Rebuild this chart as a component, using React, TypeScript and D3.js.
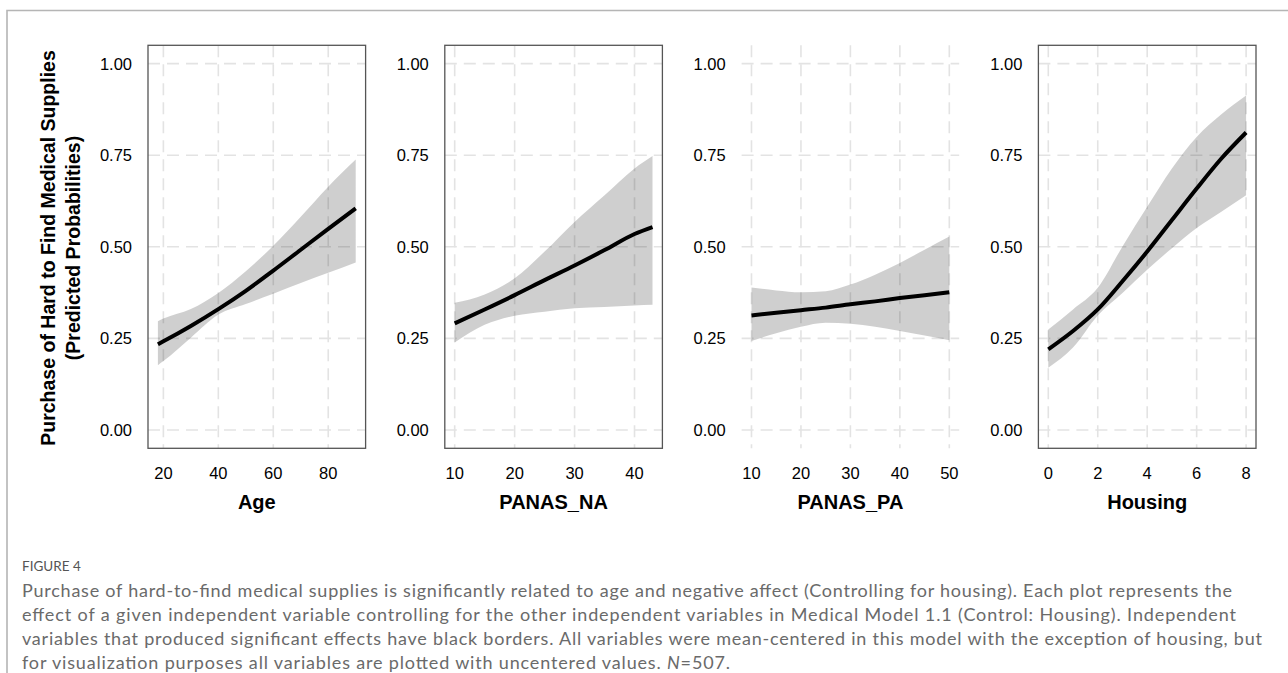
import React from 'react';
import * as d3 from 'd3';

// Age
const ageX = [18, 20, 30, 40, 50, 60, 70, 80, 90];
const ageFit = [0.234, 0.242, 0.284, 0.33, 0.38, 0.435, 0.492, 0.549, 0.605];
const ageLo = [0.177, 0.188, 0.252, 0.315, 0.344, 0.372, 0.401, 0.429, 0.457];
const ageHi = [0.297, 0.304, 0.33, 0.374, 0.433, 0.503, 0.582, 0.664, 0.738];
const ageTicks = [20, 40, 60, 80];

// PANAS_NA
const naX = [10, 15, 20, 25, 30, 35, 40, 43];
const naFit = [0.291, 0.329, 0.368, 0.409, 0.449, 0.491, 0.535, 0.554];
const naLo = [0.239, 0.287, 0.312, 0.323, 0.332, 0.336, 0.34, 0.342];
const naHi = [0.347, 0.37, 0.414, 0.487, 0.568, 0.641, 0.714, 0.748];
const naTicks = [10, 20, 30, 40];

// PANAS_PA
const paX = [10, 15, 20, 25, 30, 35, 40, 45, 50];
const paFit = [0.3125, 0.32, 0.327, 0.334, 0.343, 0.351, 0.36, 0.368, 0.376];
const paLo = [0.243, 0.264, 0.282, 0.293, 0.29, 0.282, 0.27, 0.258, 0.245];
const paHi = [0.389, 0.381, 0.376, 0.379, 0.397, 0.424, 0.456, 0.492, 0.528];
const paTicks = [10, 20, 30, 40, 50];

// Housing
const housingX = [0, 1, 2, 3, 4, 5, 6, 7, 8];
const housingFit = [0.22, 0.27, 0.329, 0.406, 0.487, 0.573, 0.659, 0.741, 0.812];
const housingLo = [0.17, 0.225, 0.3125, 0.374, 0.4375, 0.496, 0.551, 0.596, 0.641];
const housingHi = [0.274, 0.329, 0.388, 0.501, 0.609, 0.714, 0.8, 0.862, 0.913];
const housingTicks = [0, 2, 4, 6, 8];

const yTicks = [0, 0.25, 0.5, 0.75, 1];

const panels = [
  { title: 'Age', x: ageX, fit: ageFit, lo: ageLo, hi: ageHi, ticks: ageTicks, border: true },
  { title: 'PANAS_NA', x: naX, fit: naFit, lo: naLo, hi: naHi, ticks: naTicks, border: true },
  { title: 'PANAS_PA', x: paX, fit: paFit, lo: paLo, hi: paHi, ticks: paTicks, border: false },
  { title: 'Housing', x: housingX, fit: housingFit, lo: housingLo, hi: housingHi, ticks: housingTicks, border: true },
];

const captionLines = [
  'Purchase of hard-to-find medical supplies is significantly related to age and negative affect (Controlling for housing). Each plot represents the',
  'effect of a given independent variable controlling for the other independent variables in Medical Model 1.1 (Control: Housing). Independent',
  'variables that produced significant effects have black borders. All variables were mean-centered in this model with the exception of housing, but',
];
// measured line widths in the figure
const captionWidths = [1210, 1214, 1240];

const W = 1288;
const H = 673;
const top = 45.3;
const bottom = 448.3;
const left0 = 148;
const step = 296.8;
const pw = 217.6;
const font = '"Liberation Sans", Arial, Helvetica, sans-serif';

const y = d3.scaleLinear().domain([-0.05, 1.05]).range([bottom, top]);

const Panel: React.FC<{ p: typeof panels[number]; i: number }> = ({ p, i }) => {
  const left = left0 + i * step;
  const [mn, mx] = d3.extent(p.x) as [number, number];
  const pad = (mx - mn) * 0.05;
  const x = d3.scaleLinear().domain([mn - pad, mx + pad]).range([left, left + pw]);
  const idx = d3.range(p.x.length);
  const area = d3
    .area<number>()
    .x((k) => x(p.x[k]))
    .y0((k) => y(p.lo[k]))
    .y1((k) => y(p.hi[k]))
    .curve(d3.curveMonotoneX);
  const line = d3
    .line<number>()
    .x((k) => x(p.x[k]))
    .y((k) => y(p.fit[k]))
    .curve(d3.curveMonotoneX);
  const grid = { stroke: '#e3e3e3', strokeWidth: 1.6, strokeDasharray: '12,7' };
  return (
    <g>
      {yTicks.map((t) => (
        <line key={'h' + t} x1={left} x2={left + pw} y1={y(t)} y2={y(t)} {...grid} />
      ))}
      {p.ticks.map((t) => (
        <line key={'v' + t} x1={x(t)} x2={x(t)} y1={top} y2={bottom} {...grid} />
      ))}
      <path d={area(idx) || ''} fill="#000" fillOpacity={0.19} />
      <path d={line(idx) || ''} fill="none" stroke="#000" strokeWidth={4} />
      {p.border && (
        <rect x={left} y={top} width={pw} height={bottom - top} fill="none" stroke="#555" strokeWidth={1.3} />
      )}
      {yTicks.map((t) => (
        <text key={'yl' + t} x={left - 16} y={y(t)} dy="0.36em" textAnchor="end" fontSize={16.5} fill="#000">
          {d3.format('.2f')(t)}
        </text>
      ))}
      {p.ticks.map((t) => (
        <text key={'xl' + t} x={x(t)} y={479} textAnchor="middle" fontSize={16.5} fill="#000">
          {t}
        </text>
      ))}
      <text x={left + pw / 2} y={509} textAnchor="middle" fontSize={20} fontWeight="bold" fill="#000">
        {p.title}
      </text>
    </g>
  );
};

export default function App() {
  return (
    <svg
      width={W}
      height={H}
      style={{ position: 'absolute', left: 0, top: 0, background: '#fff', display: 'block' }}
      fontFamily={font}
    >
      <rect x={0} y={0} width={W} height={H} fill="#fff" />
      <path d={`M7,${H} V10.5 H${W}`} fill="none" stroke="#b5b5b5" strokeWidth={1.6} />
      {panels.map((p, i) => (
        <Panel key={p.title} p={p} i={i} />
      ))}
      <g transform={`translate(55,248) rotate(-90)`}>
        <text textAnchor="middle" fontSize={19.5} fontWeight="bold" fill="#000">
          Purchase of Hard to Find Medical Supplies
        </text>
        <text y={25} textAnchor="middle" fontSize={19.5} fontWeight="bold" fill="#000">
          (Predicted Probabilities)
        </text>
      </g>
      <g fontFamily='Lato, "Open Sans", sans-serif' fill="#6a6a6a">
        <text x={22} y={571} fontSize={13.5} fill="#555">
          FIGURE 4
        </text>
        {captionLines.map((c, k) => (
          <text key={k} x={22} y={597 + k * 24} fontSize={18} textLength={captionWidths[k]} lengthAdjust="spacing">
            {c}
          </text>
        ))}
        <text x={22} y={597 + 3 * 24} fontSize={18} textLength={708} lengthAdjust="spacing">
          for visualization purposes all variables are plotted with uncentered values. <tspan fontStyle="italic">N</tspan>=507.
        </text>
      </g>
    </svg>
  );
}
